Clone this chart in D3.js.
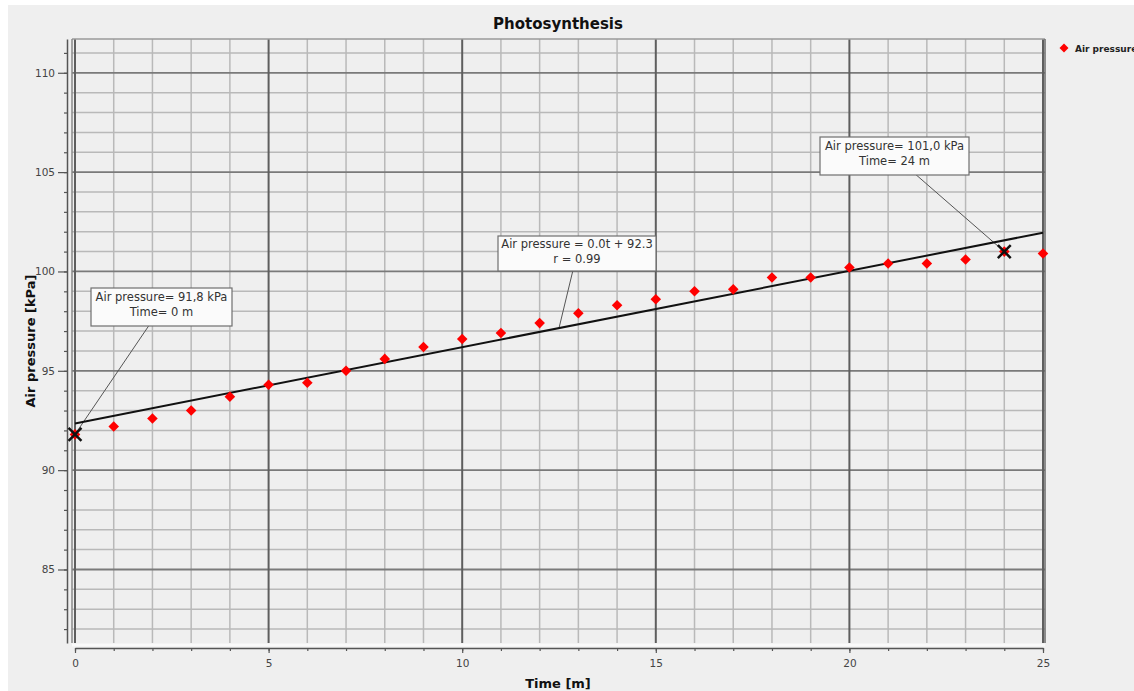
<!DOCTYPE html>
<html>
<head>
<meta charset="utf-8">
<script src="https://cdn.jsdelivr.net/npm/d3@7"></script>
<style>
  body { margin: 0; background: #fff; }
  svg { display: block; font-family: "DejaVu Sans", sans-serif; }
</style>
</head>
<body>
<div id="chart"></div>
<script>
const w = 1134;
const h = 691;

// measured values
const times = [0, 1, 2, 3, 4, 5, 6, 7, 8, 9, 10, 11, 12, 13, 14, 15, 16, 17, 18, 19, 20, 21, 22, 23, 24, 25];
const pressure = [91.8, 92.2, 92.6, 93.0, 93.7, 94.3, 94.4, 95.0, 95.6, 96.2, 96.6, 96.9, 97.4, 97.9,
                  98.3, 98.6, 99.0, 99.1, 99.7, 99.7, 100.2, 100.4, 100.4, 100.6, 101.0, 100.9];

// linear fit shown on the chart
const fitIntercept = 92.35;
const fitSlope = 0.384;
const fitLabel = ["Air pressure = 0.0t + 92.3", "r = 0.99"];

// examined points
const markedTimes = [0, 24];
const markedPressure = [91.8, 101.0];
const markedLabels = [["Air pressure= 91,8 kPa", "Time= 0 m"], ["Air pressure= 101,0 kPa", "Time= 24 m"]];

const xMajorTicks = [0, 5, 10, 15, 20, 25];
const xMinorTicks = d3.range(0, 26, 1);
const yMajorTicks = [85, 90, 95, 100, 105, 110];
const yMinorTicks = d3.range(82, 112, 1);

const title = "Photosynthesis";
const xTitle = "Time [m]";
const yTitle = "Air pressure [kPa]";
const seriesName = "Air pressure";

const x = d3.scaleLinear().domain([0, 25]).range([75, 1043]);
const y = d3.scaleLinear().domain([81.3, 111.7]).range([643, 39]);

const svg = d3.select("#chart").append("svg")
  .attr("width", w)
  .attr("height", h);

svg.append("rect").attr("width", w).attr("height", h).attr("fill", "#fff");
svg.append("rect").attr("x", 8).attr("y", 5).attr("width", w - 8).attr("height", h - 5).attr("fill", "#efefef");

const pLeft = 72, pRight = 1045, pTop = 39, pBottom = 643;

// grid
const grid = svg.append("g");
grid.selectAll(".hmin").data(yMinorTicks.filter(d => yMajorTicks.indexOf(d) < 0))
  .enter().append("line")
  .attr("x1", pLeft).attr("x2", pRight)
  .attr("y1", d => y(d)).attr("y2", d => y(d))
  .attr("stroke", "#b9b9b9").attr("stroke-width", 1.5);
grid.selectAll(".vmin").data(xMinorTicks.filter(d => xMajorTicks.indexOf(d) < 0))
  .enter().append("line")
  .attr("x1", d => x(d)).attr("x2", d => x(d))
  .attr("y1", pTop).attr("y2", pBottom)
  .attr("stroke", "#b9b9b9").attr("stroke-width", 1.5);
grid.selectAll(".hmaj").data(yMajorTicks)
  .enter().append("line")
  .attr("x1", pLeft).attr("x2", pRight)
  .attr("y1", d => y(d)).attr("y2", d => y(d))
  .attr("stroke", "#7a7a7a").attr("stroke-width", 1.8);
grid.selectAll(".vmaj").data(xMajorTicks)
  .enter().append("line")
  .attr("x1", d => x(d)).attr("x2", d => x(d))
  .attr("y1", pTop).attr("y2", pBottom)
  .attr("stroke", "#5e5e5e").attr("stroke-width", 2);

// frame
svg.append("line").attr("x1", pLeft).attr("x2", pRight).attr("y1", pTop).attr("y2", pTop)
  .attr("stroke", "#9a9a9a").attr("stroke-width", 1.5);
svg.append("line").attr("x1", pLeft).attr("x2", pLeft).attr("y1", pTop).attr("y2", pBottom)
  .attr("stroke", "#8a8a8a").attr("stroke-width", 1.5);
svg.append("line").attr("x1", pRight).attr("x2", pRight).attr("y1", pTop).attr("y2", pBottom)
  .attr("stroke", "#6a6a6a").attr("stroke-width", 1.5);
svg.append("line").attr("x1", pLeft).attr("x2", pRight).attr("y1", pBottom + 2).attr("y2", pBottom + 2)
  .attr("stroke", "#fafafa").attr("stroke-width", 3);

// axes
function styleAxis(g) {
  g.selectAll("path").attr("stroke", "#555").attr("stroke-width", 1.5);
  g.selectAll("line").attr("stroke", "#555").attr("stroke-width", 1.2);
  g.selectAll("text").attr("fill", "#444").style("font-family", "'DejaVu Sans', sans-serif").style("font-size", "10.5px");
}

svg.append("g")
  .attr("transform", "translate(67,0)")
  .call(d3.axisLeft(y).tickValues(yMinorTicks).tickSize(3).tickSizeOuter(0).tickFormat(""))
  .call(styleAxis);
svg.append("g")
  .attr("transform", "translate(67,0)")
  .call(d3.axisLeft(y).tickValues(yMajorTicks).tickSize(9).tickSizeOuter(0).tickPadding(3))
  .call(styleAxis)
  .call(g => g.select(".domain").remove());

svg.append("g")
  .attr("transform", "translate(0,648)")
  .call(d3.axisBottom(x).tickValues(xMinorTicks).tickSize(3).tickSizeOuter(0).tickFormat(""))
  .call(styleAxis);
svg.append("g")
  .attr("transform", "translate(0,648)")
  .call(d3.axisBottom(x).tickValues(xMajorTicks).tickSize(5).tickPadding(7))
  .call(styleAxis)
  .call(g => g.select(".domain").remove());

// titles
svg.append("text")
  .attr("x", 558).attr("y", 29)
  .attr("text-anchor", "middle")
  .style("font-weight", "bold").style("font-size", "15px").style("fill", "#111")
  .text(title);
svg.append("text")
  .attr("x", 558).attr("y", 688)
  .attr("text-anchor", "middle")
  .style("font-weight", "bold").style("font-size", "13px").style("fill", "#111")
  .text(xTitle);
svg.append("text")
  .attr("transform", "translate(35,341)rotate(-90)")
  .attr("text-anchor", "middle")
  .style("font-weight", "bold").style("font-size", "13px").style("fill", "#111")
  .text(yTitle);

// legend
const legend = svg.append("g").attr("transform", "translate(1064,48)");
legend.append("path")
  .attr("d", d3.symbol(d3.symbolSquare, 40)())
  .attr("transform", "rotate(45)")
  .attr("fill", "#ff0000");
legend.append("text")
  .attr("x", 11).attr("y", 3.5)
  .style("font-weight", "bold").style("font-size", "9px").style("fill", "#222")
  .text(seriesName);

// annotation leader lines (under boxes)
const annotations = [
  { lines: markedLabels[0], cx: 161.5, cy: 307, w: 141, h: 38, tx: x(markedTimes[0]), ty: y(markedPressure[0]) },
  { lines: fitLabel, cx: 577, cy: 253.5, w: 158, h: 35, tx: x(12.5), ty: y(fitIntercept + fitSlope * 12.5) },
  { lines: markedLabels[1], cx: 894.5, cy: 156, w: 149, h: 38, tx: x(markedTimes[1]), ty: y(markedPressure[1]) }
];

svg.selectAll(".leader").data(annotations)
  .enter().append("line")
  .attr("x1", d => d.cx).attr("y1", d => d.cy)
  .attr("x2", d => d.tx).attr("y2", d => d.ty)
  .attr("stroke", "#555").attr("stroke-width", 1);

// fit line
svg.append("line")
  .attr("x1", x(0)).attr("y1", y(fitIntercept))
  .attr("x2", x(25)).attr("y2", y(fitIntercept + fitSlope * 25))
  .attr("stroke", "#111").attr("stroke-width", 2);

// data points
svg.selectAll(".pt").data(times)
  .enter().append("path")
  .attr("d", d3.symbol(d3.symbolSquare, 56)())
  .attr("transform", (d, i) => "translate(" + x(d) + "," + y(pressure[i]) + ")rotate(45)")
  .attr("fill", "#ff0000");

// crosses at examined points
svg.selectAll(".cross").data(markedTimes)
  .enter().append("path")
  .attr("d", d3.symbol(d3.symbolX, 110)())
  .attr("transform", (d, i) => "translate(" + x(d) + "," + y(markedPressure[i]) + ")")
  .attr("fill", "none")
  .attr("stroke", "#111")
  .attr("stroke-width", 2.5);

// annotation boxes
const boxes = svg.selectAll(".box").data(annotations)
  .enter().append("g")
  .attr("transform", d => "translate(" + (d.cx - d.w / 2) + "," + (d.cy - d.h / 2) + ")");
boxes.append("rect")
  .attr("width", d => d.w).attr("height", d => d.h)
  .attr("fill", "#fbfbfb")
  .attr("stroke", "#6f6f6f").attr("stroke-width", 1.2);
boxes.each(function(d) {
  const g = d3.select(this);
  d.lines.forEach((t, i) => {
    g.append("text")
      .attr("x", d.w / 2)
      .attr("y", d.h / 2 - 6 + i * 15)
      .attr("text-anchor", "middle")
      .style("font-size", "11.5px").style("fill", "#333")
      .text(t);
  });
});
</script>
</body>
</html>
